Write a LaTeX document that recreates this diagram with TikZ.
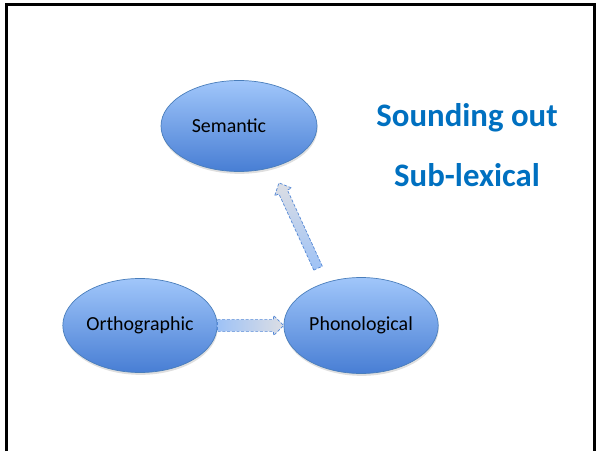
\documentclass[tikz,border=0pt]{standalone}
\usepackage{fontspec}
\setmainfont{Carlito}
\usepackage{tikz}
\usetikzlibrary{shapes}
\usetikzlibrary{shadows}
\usetikzlibrary{calc}
\usetikzlibrary{positioning}

\definecolor{slideblue}{RGB}{0,112,192}
\definecolor{balltop}{RGB}{160,198,250}
\definecolor{ballbot}{RGB}{72,126,212}
\definecolor{ballrim}{RGB}{74,126,187}
\definecolor{arrblue}{RGB}{158,194,246}
\definecolor{arrgrey}{RGB}{220,222,228}
\definecolor{arrrim}{RGB}{84,136,214}

\tikzset{
  bubble/.style={ellipse, draw=ballrim, line width=0.6pt, top color=balltop, bottom color=ballbot,
    inner sep=0pt, minimum width=4.63cm, minimum height=2.82cm, font=\fontsize{17}{20}\selectfont,
    drop shadow={shadow xshift=0.5pt, shadow yshift=-2pt, opacity=0.25}},
  blockarr/.style={draw=arrrim, line width=0.6pt, dash pattern=on 2.5pt off 1.5pt, line join=round},
  headline/.style={text=slideblue, font=\fontsize{28}{32}\selectfont\bfseries}
}

\newcommand\blockarrow[5][]{%
  \coordinate (hb) at ($(#3)!8.5pt!(#2)$);
  \draw[blockarr,#1] ($(#2)!#4!90:(#3)$) -- ($(hb)!#4!90:(#3)$) -- ($(hb)!#5!90:(#3)$) -- (#3)
    -- ($(hb)!#5!-90:(#3)$) -- ($(hb)!#4!-90:(#3)$) -- ($(#2)!#4!-90:(#3)$) -- cycle;
}

\begin{document}
\begin{tikzpicture}[x=0.03cm, y=-0.03cm]
  \useasboundingbox (0,0) rectangle (600,451);
  \draw[line width=2.2pt] (6.5,451) -- (6.5,4.5) -- (594.5,4.5) -- (594.5,451);

  \node[bubble, minimum width=4.68cm, minimum height=2.73cm] (sem) at (239,126) {Semantic\hspace*{6mm}};
  \node[bubble] (orth) at (140,325.5) {Orthographic};
  \node[bubble, minimum height=2.88cm, right=1.98cm of orth] (phon) {Phonological};

  \node[headline] (sound) at (467,118) {Sounding out};
  \node[headline] (sublex) at (467,175) {Sub-lexical};

  \coordinate (uptail) at ($(phon.north)+(-43,-9)$);
  \coordinate (uptip) at ($(sem.south)+(40,11)$);
  \blockarrow[left color=arrblue, right color=arrgrey]{orth.east}{phon.west}{5pt}{8.5pt}
  \blockarrow[bottom color=arrblue, top color=arrgrey]{uptail}{uptip}{4pt}{8pt}
\end{tikzpicture}
\end{document}
